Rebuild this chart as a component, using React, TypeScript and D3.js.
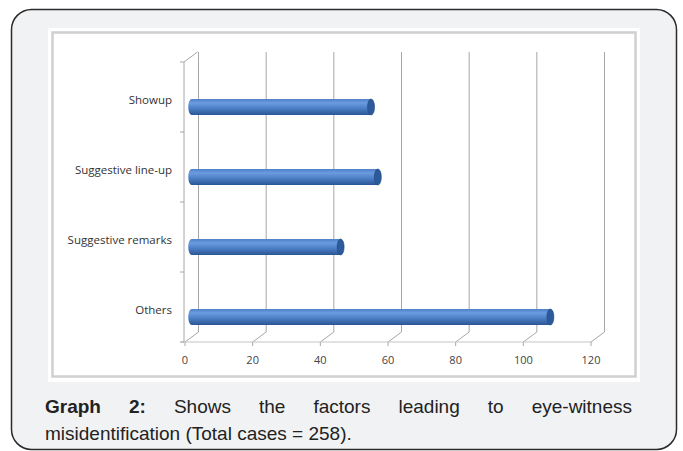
import React, { useRef, useEffect } from 'react';
import * as d3 from 'd3';

const categories = ['Showup', 'Suggestive line-up', 'Suggestive remarks', 'Others'];
const cases = [53, 55, 44, 106];
const xTicks = [0, 20, 40, 60, 80, 100, 120];

const App: React.FC = () => {
  const svgRef = useRef<SVGSVGElement | null>(null);

  useEffect(() => {
    if (!svgRef.current) return;
    const svg = d3.select(svgRef.current);
    svg.selectAll('*').remove();

    // card + chart frame
    svg.append('rect').attr('x', 11.5).attr('y', 9.5).attr('width', 665).attr('height', 440)
      .attr('rx', 20).attr('fill', '#f1f2f4').attr('stroke', '#2b2b2b').attr('stroke-width', 1.5);
    svg.append('rect').attr('x', 48).attr('y', 28).attr('width', 592).attr('height', 354).attr('fill', '#fff');
    svg.append('rect').attr('x', 52.5).attr('y', 32.5).attr('width', 583).attr('height', 344)
      .attr('fill', 'none').attr('stroke', '#d0d0d0').attr('stroke-width', 2.5);

    const defs = svg.append('defs');
    const grad = defs.append('linearGradient').attr('id', 'barGrad')
      .attr('x1', 0).attr('y1', 0).attr('x2', 0).attr('y2', 1);
    grad.append('stop').attr('offset', '0%').attr('stop-color', '#4f80c6');
    grad.append('stop').attr('offset', '25%').attr('stop-color', '#6b9be0');
    grad.append('stop').attr('offset', '60%').attr('stop-color', '#4a7dc4');
    grad.append('stop').attr('offset', '100%').attr('stop-color', '#2a5593');

    // 3D offsets of the back wall
    const dx = 13.5;
    const dy = -10;

    const x = d3.scaleLinear().domain([0, 120]).range([185, 591]);
    const y = d3.scaleBand().domain(categories).range([62, 342]);
    const grid = '#a6a6a6';
    const labelFont = 'Open Sans, sans-serif';

    // back wall gridlines + floor diagonals
    xTicks.forEach(t => {
      svg.append('line').attr('x1', x(t) + dx).attr('x2', x(t) + dx)
        .attr('y1', 52).attr('y2', 342 + dy).attr('stroke', grid).attr('stroke-width', 1);
      svg.append('line').attr('x1', x(t)).attr('x2', x(t) + dx)
        .attr('y1', 342).attr('y2', 342 + dy).attr('stroke', grid).attr('stroke-width', 1);
      svg.append('line').attr('x1', x(t)).attr('x2', x(t))
        .attr('y1', 342).attr('y2', 346).attr('stroke', grid);
      svg.append('text').attr('x', x(t)).attr('y', 359)
        .attr('text-anchor', 'middle').attr('dominant-baseline', 'central')
        .attr('font-family', labelFont).attr('font-size', 11).attr('fill', '#444')
        .text(t);
    });
    // front floor edge
    svg.append('line').attr('x1', 181).attr('x2', x(120)).attr('y1', 342).attr('y2', 342)
      .attr('stroke', '#c4c4c4');

    // left wall
    svg.append('line').attr('x1', 184).attr('x2', 184).attr('y1', 62).attr('y2', 342)
      .attr('stroke', grid);
    svg.append('line').attr('x1', 184).attr('x2', 184 + dx).attr('y1', 62).attr('y2', 62 + dy)
      .attr('stroke', grid);
    [...categories.map(c => y(c)!), 342].forEach(v => {
      svg.append('line').attr('x1', 180).attr('x2', 184).attr('y1', v).attr('y2', v).attr('stroke', grid);
    });

    // category labels
    categories.forEach(c => {
      svg.append('text').attr('x', 172).attr('y', y(c)! + y.bandwidth() / 2 + 2)
        .attr('text-anchor', 'end').attr('dominant-baseline', 'central')
        .attr('font-family', labelFont).attr('font-size', 11.5).attr('fill', '#333')
        .text(c);
    });

    // cylinder bars
    const h = 16;
    const rx = 3.5;
    const x0 = x(0) + dx / 2;
    categories.forEach((c, i) => {
      const cy = y(c)! + y.bandwidth() / 2 + 10;
      const x1 = x(cases[i]) + dx / 2;
      const g = svg.append('g');
      g.append('ellipse').attr('cx', x0).attr('cy', cy).attr('rx', rx).attr('ry', h / 2)
        .attr('fill', 'url(#barGrad)');
      g.append('rect').attr('x', x0).attr('y', cy - h / 2).attr('width', x1 - x0).attr('height', h)
        .attr('fill', 'url(#barGrad)');
      g.append('ellipse').attr('cx', x1).attr('cy', cy).attr('rx', rx).attr('ry', h / 2)
        .attr('fill', '#2d5a9c').attr('stroke', '#24487e').attr('stroke-width', 0.6);
    });

    // caption: first line justified between left and right edges
    const cap = svg.append('g')
      .attr('font-family', 'Liberation Sans, Arial, sans-serif').attr('font-size', 19).attr('fill', '#222');
    const left = 45;
    const right = 632;
    const line1 = [
      { w: 'Graph', bold: true },
      { w: '2:', bold: true },
      { w: 'Shows' }, { w: 'the' }, { w: 'factors' }, { w: 'leading' }, { w: 'to' }, { w: 'eye-witness' },
    ];
    const nodes = line1.map(d =>
      cap.append('text').attr('y', 413).attr('font-weight', d.bold ? 'bold' : 'normal').text(d.w)
    );
    const widths = nodes.map(n => (n.node() as SVGTextElement).getComputedTextLength());
    const gap = (right - left - d3.sum(widths)) / (nodes.length - 1);
    let cx = left;
    nodes.forEach((n, i) => {
      n.attr('x', cx);
      cx += widths[i] + gap;
    });
    cap.append('text').attr('x', left).attr('y', 440).text('misidentification (Total cases = 258).');
  }, []);

  return (
    <svg ref={svgRef} width={683} height={451}
      style={{ position: 'fixed', top: 0, left: 0, display: 'block', background: '#fff' }} />
  );
};

export default App;
